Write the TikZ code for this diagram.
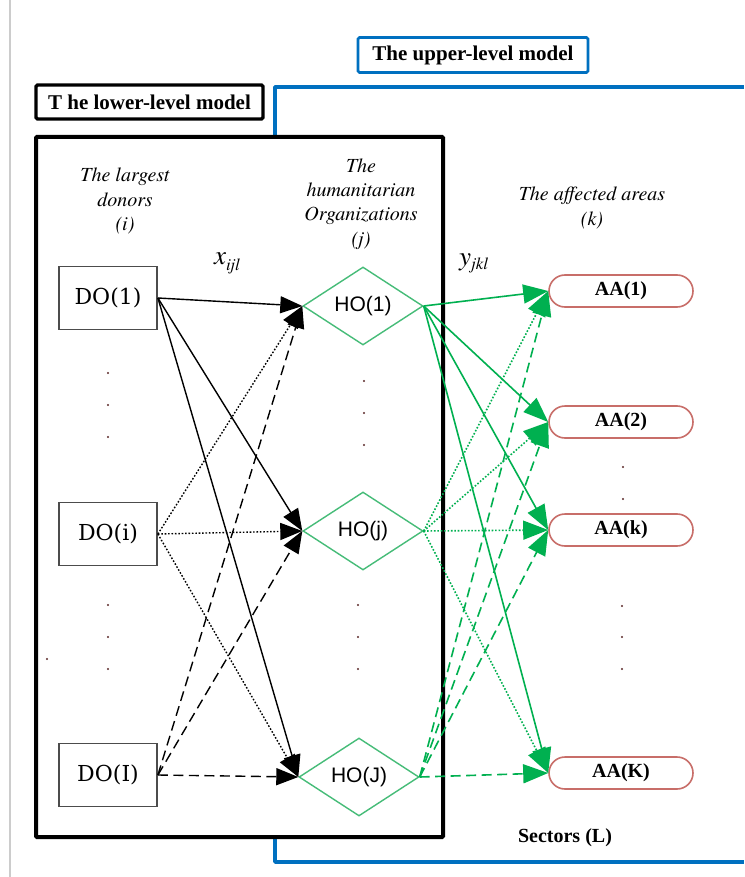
\documentclass[tikz,border=0pt]{standalone}
\usepackage{fontspec}
\setmainfont{Liberation Serif}
\newfontfamily\itfont{texgyretermes-italic.otf}
\newfontfamily\dofont{DejaVu Serif}
\newfontfamily\hofont{Liberation Sans}
\usetikzlibrary{arrows.meta,shapes.geometric,shapes.misc}

\definecolor{frameblue}{RGB}{0,112,192}
\definecolor{flowgreen}{RGB}{0,176,80}
\definecolor{hogreen}{RGB}{70,188,120}
\definecolor{aared}{RGB}{200,110,105}
\definecolor{dotc}{RGB}{90,40,40}

\tikzset{
  donor/.style={draw=black!70, line width=1.8pt, minimum width=98pt, minimum height=63pt,
    inner sep=0pt, font=\dofont\fontsize{22}{26}\selectfont},
  horg/.style={diamond, aspect=2, draw=hogreen, line width=1.4pt, minimum width=120pt,
    minimum height=78pt, inner sep=0pt, font=\hofont\fontsize{21}{25}\selectfont},
  area/.style={rounded rectangle, draw=aared, line width=1.6pt, minimum width=144pt,
    minimum height=32pt, inner sep=0pt, font=\bfseries\fontsize{20}{24}\selectfont},
  heading/.style={align=center, font=\itfont\fontsize{20}{24.4}\selectfont},
  modellabel/.style={inner sep=0pt, font=\bfseries\fontsize{21}{25}\selectfont},
  flowvar/.style={anchor=base west, inner sep=0pt, font=\itfont\fontsize{27}{30}\selectfont},
  blk/.style={-{Triangle[length=22pt,width=17pt]}, line width=1.4pt, black},
  grn/.style={-{Triangle[length=25pt,width=19pt]}, line width=1.6pt, flowgreen},
  dotline/.style={dash pattern=on 1.6pt off 1.8pt},
  dashline/.style={dash pattern=on 10pt off 5.5pt},
  smalldot/.style={fill=dotc},
}

\begin{document}
\begin{tikzpicture}[x=1pt,y=-1pt]
\useasboundingbox (0,0) rectangle (744,877);
\fill[white] (0,0) rectangle (744,877);

% page edge
\draw[black!20, line width=1.2pt] (10,0) -- (10,877);

% upper-level frame (open to the right)
\draw[frameblue, line width=3.5pt, line join=round] (744,87) -- (275,87) -- (275,862) -- (744,862);

% lower-level frame
\draw[black, line width=4pt, fill=white, rounded corners=1pt] (36,137) rectangle (443,837);

% model labels
\node[modellabel, draw=frameblue, line width=2.8pt, rounded corners=1.5pt,
      minimum width=230pt, minimum height=35pt] (upper) at (473,55) {The upper-level model};
\node[modellabel, draw=black, line width=3.2pt, rounded corners=1.5pt,
      minimum width=227pt, minimum height=34pt] (lower) at (149.5,102) {T he lower-level model};

% column headings
\node[heading] (hdon) at (125,201) {The largest\\donors\\(i)};
\node[heading] (hho) at (361,204) {The\\humanitarian\\Organizations\\(j)};
\node[heading] (haa) at (592,208) {The affected areas\\(k)};

% flow variables
\node[flowvar] (xvar) at (214,264)
  {x\raisebox{-6pt}{\fontsize{17}{17}\selectfont ijl}};
\node[flowvar] (yvar) at (459,265)
  {y\raisebox{-5pt}{\fontsize{17}{17}\selectfont jkl}};

% donors
\node[donor] (do1) at (108,298) {DO(1)};
\node[donor] (doi) at (108,534) {DO(i)};
\node[donor] (doI) at (108,775) {DO(I)};

% humanitarian organizations
\node[horg] (ho1) at (363,306) {HO(1)};
\node[horg] (hoj) at (363,531) {HO(j)};
\node[horg] (hoJ) at (359,777) {HO(J)};

% affected areas
\node[area] (aa1) at (621,291) {AA(1)};
\node[area] (aa2) at (621,422) {AA(2)};
\node[area] (aak) at (621,530) {AA(k)};
\node[area] (aaK) at (621,773) {AA(K)};

% ellipsis dots
\foreach \yy in {373,405,437,605,637,669} \fill[smalldot] (108,\yy) circle (1.2pt);
\foreach \yy in {381,413,445} \fill[smalldot] (364,\yy) circle (1.2pt);
\foreach \yy in {605,637,669} \fill[smalldot] (358,\yy) circle (1.2pt);
\foreach \yy in {467,499} \fill[smalldot] (623,\yy) circle (1.2pt);
\foreach \yy in {606,637,669} \fill[smalldot] (622,\yy) circle (1.2pt);
\fill[smalldot] (47,659) circle (1.2pt);

% donors -> organizations
\draw[blk] (do1.east) -- (ho1.west);
\draw[blk] (do1.east) -- (hoj.west);
\draw[blk] (do1.east) -- (hoJ.west);
\draw[blk, dotline] (doi.east) -- (ho1.west);
\draw[blk, dotline] (doi.east) -- (hoj.west);
\draw[blk, dotline] (doi.east) -- (hoJ.west);
\draw[blk, dashline] (doI.east) -- (ho1.west);
\draw[blk, dashline] (doI.east) -- (hoj.west);
\draw[blk, dashline] (doI.east) -- (hoJ.west);

% organizations -> affected areas
\foreach \t in {aa1,aa2,aak,aaK} {
  \draw[grn] (ho1.east) -- (\t.west);
  \draw[grn, dotline] (hoj.east) -- (\t.west);
  \draw[grn, dashline] (hoJ.east) -- (\t.west);
}

% sectors
\node[font=\bfseries\fontsize{20}{24}\selectfont] (sect) at (565,838) {Sectors (L)};
\end{tikzpicture}
\end{document}
